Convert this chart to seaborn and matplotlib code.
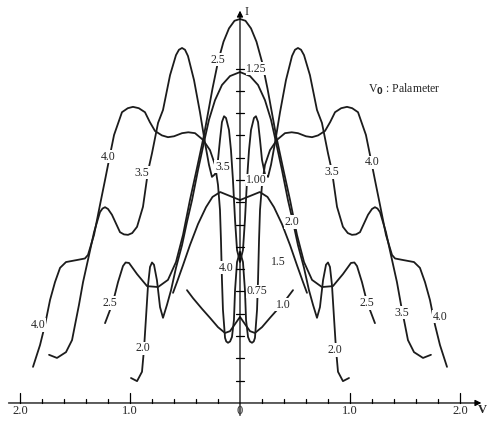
import numpy as np
import pandas as pd
import matplotlib
matplotlib.use("Agg")
import matplotlib.pyplot as plt
import seaborn as sns

sns.set_style("white")
plt.rcParams['font.family'] = ['Liberation Serif', 'DejaVu Serif']

# right halves of the I-V curves (the figure is symmetric about V = 0)
v_10 = [0, .045, .091, .136, .2, .273, .345, .427, .482]
i_10 = [.693, .677, .661, .657, .670, .691, .711, .735, .753]

v_15 = [0, .08, .18, .25, .309, .382, .455, .518, .573, .609]
i_15 = [.955, .963, .973, .962, .939, .901, .854, .809, .771, .747]

v_20 = [0, .091, .164, .227, .282, .327, .382, .436, .482, .527, .582, .627, .664,
        .7, .727, .755, .782, .8, .818, .836, .855, .873, .891, .936, .991]
i_20 = [1.242, 1.233, 1.213, 1.179, 1.135, 1.085, 1.022, .955, .906, .854, .803, .753, .72,
        .691, .715, .775, .81, .815, .805, .765, .69, .62, .57, .549, .556]

v_25 = [0, .05, .1, .15, .2, .25, .327, .391, .455, .518, .582, .655, .745, .845,
        .936, 1.009, 1.04, 1.064, 1.109, 1.155, 1.227]
i_25 = [1.361, 1.357, 1.34, 1.31, 1.265, 1.205, 1.101, 1.027, .955, .877, .816, .776, .76, .762,
        .789, .814, .815, .807, .771, .726, .679]

v_35 = [0, .027, .045, .064, .082, .1, .127, .145, .164, .182, .2, .227, .255, .282, .318,
        .364, .418, .473, .5, .527, .555, .582, .636, .7, .745, .8, .836, .882, .936, .98,
        1.018, 1.055, 1.091, 1.164, 1.2, 1.227, 1.25, 1.273, 1.327, 1.382, 1.427, 1.464,
        1.5, 1.527, 1.582, 1.664, 1.736]
i_35 = [.816, .843, .91, 1.0, 1.067, 1.112, 1.139, 1.143, 1.13, 1.09, 1.045, 1.013, 1.007, 1.034, 1.083,
        1.152, 1.224, 1.278, 1.292, 1.296, 1.292, 1.28, 1.235, 1.157, 1.128, 1.06, 1.02, .94, .895, .881,
        .877, .878, .883, .922, .935, .939, .936, .928, .883, .821, .771, .72,
        .675, .641, .614, .601, .608]

v_40 = [0, .027, .045, .055, .073, .09, .109, .125, .136, .155, .164, .173, .182, .2, .227,
        .273, .336, .409, .47, .527, .6, .655, .71, .773, .82, .864, .92, .973, 1.02, 1.073,
        1.145, 1.182, 1.227, 1.273, 1.327, 1.382, 1.41, 1.473, 1.582, 1.636, 1.682, 1.727,
        1.773, 1.818, 1.882]
i_40 = [.839, .816, .753, .686, .648, .638, .635, .638, .646, .709, .776, .865, .933, .989, 1.034,
        1.067, 1.09, 1.105, 1.107, 1.105, 1.098, 1.096, 1.1, 1.11, 1.13, 1.152, 1.161, 1.164, 1.161, 1.152,
        1.101, 1.056, 1.0, .944, .877, .832, .824, .821, .816, .803, .771, .731,
        .675, .63, .581]

curves = {"1.0": (v_10, i_10), "1.5": (v_15, i_15), "2.0": (v_20, i_20),
          "2.5": (v_25, i_25), "3.5": (v_35, i_35), "4.0": (v_40, i_40)}

# curve labels (text, V, I)
curve_labels = [("2.5", -.2, 1.27), ("2.5", -1.182, .724), ("2.5", 1.155, .724),
                ("3.5", -.89, 1.016), ("3.5", -.16, 1.03), ("3.5", .836, 1.018), ("3.5", 1.473, .702),
                ("4.0", -1.2, 1.052), ("4.0", 1.2, 1.04), ("4.0", -1.836, .675), ("4.0", 1.818, .693),
                ("4.0", -.127, .803),
                ("2.0", .473, .906), ("2.0", -.882, .623), ("2.0", .864, .619),
                ("1.5", .345, .816), ("1.0", .391, .72)]

yticks = np.round(np.arange(0.55, 1.251, 0.05), 2)
ylabels = {0.75: "0.75", 1.0: "1.00", 1.25: "1.25"}
xticks = np.round(np.arange(-2.0, 2.01, 0.2), 1)
xlabels = {-2.0: "2.0", -1.0: "1.0", 0.0: "0", 1.0: "1.0", 2.0: "2.0"}

frames = []
for name, (v, i) in curves.items():
    v = np.array(v)
    i = np.array(i)
    full_v = np.concatenate([-v[::-1], v[1:]])
    full_i = np.concatenate([i[::-1], i[1:]])
    frames.append(pd.DataFrame({"V": full_v, "I": full_i, "V0": name}))
df = pd.concat(frames, ignore_index=True)

fig = plt.figure(figsize=(4.9, 4.21), dpi=100)
ax = fig.add_axes([0, 0, 1, 1])
sns.lineplot(data=df, x="V", y="I", units="V0", estimator=None, sort=False,
             color="#1c1c1c", lw=1.3, legend=False, ax=ax)

ax.set_xlim(-2.182, 2.273)
ax.set_ylim(0.4596, 1.4036)
ax.axis("off")

# axes with arrows
ax.annotate("", xy=(2.22, 0.5), xytext=(-2.13, 0.5),
            arrowprops=dict(arrowstyle="-|>", lw=0.9, color="k", mutation_scale=9))
ax.annotate("", xy=(0, 1.386), xytext=(0, 0.466),
            arrowprops=dict(arrowstyle="-|>", lw=0.9, color="k", mutation_scale=9))

for t in xticks:
    if t == 0:
        continue
    h = 0.0224 if t in xlabels else 0.01
    ax.plot([t, t], [0.5, 0.5 + h], color="k", lw=0.9)
for t, s in xlabels.items():
    ax.text(t, 0.481, s, ha="center", va="center", fontsize=9)

for t in yticks:
    ax.plot([-0.036, 0.036], [t, t], color="k", lw=0.9)
for t, s in ylabels.items():
    ax.text(0.055, t, s, ha="left", va="center", fontsize=8.5,
            bbox=dict(facecolor="white", edgecolor="none", pad=0.3))

for s, x, y in curve_labels:
    ax.text(x, y, s, ha="center", va="center", fontsize=8.5,
            bbox=dict(facecolor="white", edgecolor="none", pad=0.4))

ax.text(0.045, 1.377, "I", ha="left", va="center", fontsize=9)
ax.text(2.2, 0.484, "V", ha="center", va="center", fontsize=9, fontweight="bold")
ax.text(1.164, 1.202, "V$_\\mathbf{0}$ : Palameter", ha="left", va="center", fontsize=8.5)

fig.savefig("out.png", dpi=100, facecolor="white")
